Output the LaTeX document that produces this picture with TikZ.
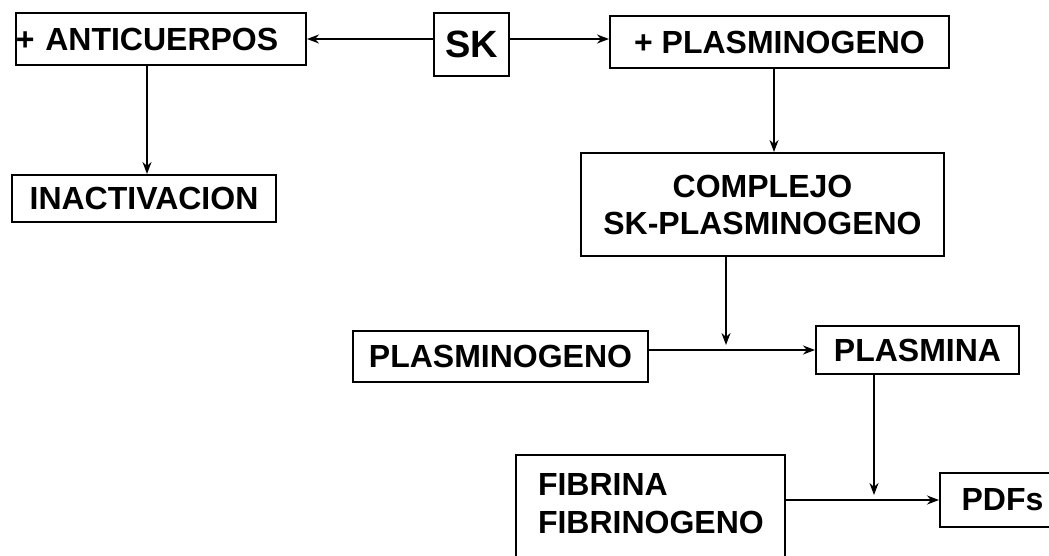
\documentclass[tikz,border=0pt]{standalone}
\usepackage{fontspec}
\setmainfont{Liberation Sans}
\usetikzlibrary{arrows.meta,calc}
\begin{document}
\begin{tikzpicture}[x=1pt,y=-1pt,
  box/.style={draw, line width=2pt, rectangle, inner sep=0pt,
    font=\fontsize{32pt}{37pt}\selectfont\bfseries, align=center},
  arr/.style={line width=1.7pt, -{Stealth[length=12pt,width=9pt]}}
]
\useasboundingbox (0,0) rectangle (1049,555);
\fill[white] (0,0) rectangle (1049,555);

\node[box, minimum width=290pt, minimum height=52pt, text width=290pt, align=left] (anti) at (161,39) {+ ANTICUERPOS};
\node[box, minimum width=75pt, minimum height=63pt, font=\fontsize{38pt}{40pt}\selectfont\bfseries] (sk) at (471.5,44.5) {SK};
\node[box, minimum width=339pt, minimum height=52pt] (plas1) at (779.5,42) {+ PLASMINOGENO};
\node[box, minimum width=264pt, minimum height=47pt] (inact) at (144,198.5) {INACTIVACION};
\node[box, minimum width=363pt, minimum height=103pt] (compl) at (762.5,204.5) {COMPLEJO\\SK-PLASMINOGENO};
\node[box, minimum width=295pt, minimum height=51pt] (plgn) at (500.5,356.5) {PLASMINOGENO};
\node[box, minimum width=203pt, minimum height=48pt] (plasmina) at (917.5,350) {PLASMINA};
\node[box, minimum width=267pt, minimum height=105pt, text width=225pt, inner xsep=22pt, align=left, font=\fontsize{32pt}{38pt}\selectfont\bfseries, text height=23pt, text depth=48pt] (fib) at (650.5,507.5) {FIBRINA\\FIBRINOGENO};
\node[box, minimum width=125pt, minimum height=54pt] (pdfs) at (1002.5,500) {PDFs};

\coordinate (j1) at (726,345);
\coordinate (j2) at (874,495);

\draw[arr] (sk.west |- anti.east) -- (anti.east);
\draw[arr] (sk.east |- anti.east) -- (plas1.west |- anti.east);
\draw[arr] ([xshift=-14pt]anti.south) -- ([xshift=-14pt]anti.south |- inact.north);
\draw[arr] ([xshift=-5.5pt]plas1.south) -- ([xshift=-5.5pt]plas1.south |- compl.north);
\draw[arr] (compl.south -| j1) -- (j1);
\draw[arr] (plgn.east |- plasmina.west) -- (plasmina.west);
\draw[arr] (plasmina.south -| j2) -- (j2);
\draw[arr] (fib.east |- pdfs.west) -- (pdfs.west);
\end{tikzpicture}
\end{document}
